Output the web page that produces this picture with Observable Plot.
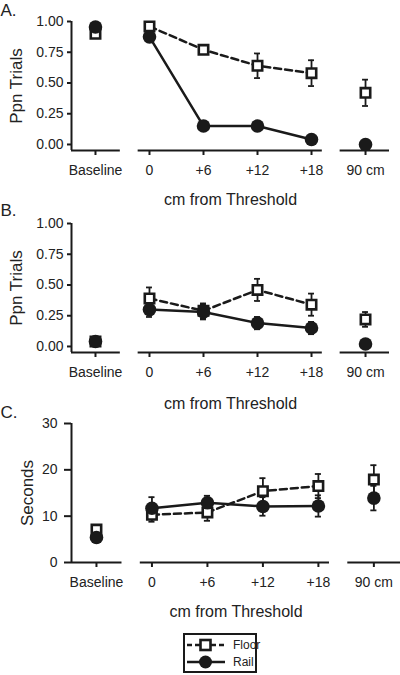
<!DOCTYPE html>
<html><head><meta charset="utf-8">
<script src="https://cdn.jsdelivr.net/npm/d3@7"></script>
<script src="https://cdn.jsdelivr.net/npm/@observablehq/plot@0.6"></script>
<style>
body{margin:0;background:#fff;font-family:"Liberation Sans",Arial,sans-serif;}
#wrap{position:relative;width:400px;height:675px;overflow:hidden;}
#wrap svg{display:block;overflow:visible;}
#legend{position:absolute;left:183px;top:633px;width:70px;height:36px;border:2px solid #1a1a1a;background:#fff;}
#legend svg{display:block;}
</style></head><body><div id="wrap"></div>
<script>
// ---- data ----
const conditions = ["Baseline", "0", "+6", "+12", "+18", "90 cm"];
const seriesNames = ["Floor", "Rail"];
const xTitle = "cm from Threshold";

// Panel A: Ppn Trials
const floorA    = [0.90, 0.96, 0.77, 0.64, 0.58, 0.42];
const floorAErr = [0.02, 0.02, 0.03, 0.10, 0.105, 0.107];
const railA     = [0.955, 0.875, 0.15, 0.15, 0.04, 0.00];
const railAErr  = [0.02, 0.02, 0.02, 0.02, 0.02, 0.00];

// Panel B: Ppn Trials
const floorB    = [0.04, 0.39, 0.29, 0.46, 0.34, 0.22];
const floorBErr = [0.02, 0.09, 0.06, 0.09, 0.09, 0.06];
const railB     = [0.04, 0.30, 0.28, 0.19, 0.15, 0.02];
const railBErr  = [0.02, 0.06, 0.06, 0.05, 0.05, 0.01];

// Panel C: Seconds
const floorC    = [7.1, 10.3, 10.8, 15.4, 16.5, 17.9];
const floorCErr = [0.6, 1.5, 1.8, 2.8, 2.6, 3.1];
const railC     = [5.4, 11.7, 12.9, 12.1, 12.2, 13.9];
const railCErr  = [0.5, 2.4, 1.5, 2.0, 2.3, 2.65];

const ticksPpn = [0, 0.25, 0.5, 0.75, 1];
const ticksSec = [0, 10, 20, 30];

// ---- drawing ----
const INK = "#1a1a1a";
const TXT = "#222";

function panel(o) {
  const mk = (vals, errs) => vals.map((v, i) => ({i, v, e: errs[i]}));
  const fl = mk(o.floor, o.floorErr), rl = mk(o.rail, o.railErr);
  const [x0, x1] = o.xDomain, [y0, y1] = o.yDomain;
  const segs = [[x0, 0.46], [0.79, 4.2], [4.53, x1]];
  const mid = p => p.i >= 1 && p.i <= 4;
  const cap = 0.055;
  const errMarks = d => {
    const e = d.filter(p => p.e > 0);
    return [
      Plot.ruleX(e, {x: "i", y1: p => p.v - p.e, y2: p => p.v + p.e, stroke: INK, strokeWidth: 1.8}),
      Plot.ruleY(e, {y: p => p.v + p.e, x1: p => p.i - cap, x2: p => p.i + cap, stroke: INK, strokeWidth: 1.8}),
      Plot.ruleY(e, {y: p => p.v - p.e, x1: p => p.i - cap, x2: p => p.i + cap, stroke: INK, strokeWidth: 1.8})
    ];
  };
  return Plot.plot({
    width: 400, height: o.height,
    marginTop: o.marginTop, marginBottom: o.marginBottom,
    marginLeft: 71, marginRight: o.marginRight,
    style: {overflow: "visible", fontFamily: "'Liberation Sans', Arial, sans-serif", color: TXT, background: "white"},
    x: {type: "linear", domain: o.xDomain},
    y: {type: "linear", domain: o.yDomain},
    marks: [
      Plot.ruleY(segs, {x1: d => d[0], x2: d => d[1], y: () => y0, stroke: INK, strokeWidth: 2}),
      Plot.ruleX([x0], {x: d => d, y1: () => y0, y2: () => y1, stroke: INK, strokeWidth: 2}),
      Plot.axisY({ticks: o.yTicks, tickFormat: o.yFormat, tickSize: o.yTickSize, tickPadding: o.yTickPadding,
                  fontSize: 14, label: null, stroke: INK, strokeWidth: 2}),
      Plot.axisX({ticks: [0, 1, 2, 3, 4, 5], tickFormat: i => conditions[Math.round(i)], tickSize: 5, tickPadding: 10,
                  fontSize: 14, label: null, stroke: INK, strokeWidth: 2}),
      ...errMarks(fl),
      Plot.line(fl.filter(mid), {x: "i", y: "v", stroke: INK, strokeWidth: 2.5, strokeDasharray: "7,4"}),
      ...errMarks(rl),
      Plot.line(rl.filter(mid), {x: "i", y: "v", stroke: INK, strokeWidth: 2.5}),
      Plot.dot(fl, {x: "i", y: "v", symbol: "square", r: 5.3, fill: "white", stroke: INK, strokeWidth: 2.6}),
      Plot.dot(rl, {x: "i", y: "v", r: 6.8, fill: INK, stroke: "none"}),
      Plot.text([o.yLabel], {text: d => d, frameAnchor: "left", rotate: -90, dx: o.yLabelX - 71,
                             fontSize: 17, fill: TXT, textAnchor: "middle", lineAnchor: "middle"}),
      Plot.text([xTitle], {text: d => d, frameAnchor: "bottom", dy: o.titleDy, fontSize: 16, fill: TXT,
                           textAnchor: "middle", lineAnchor: "middle"}),
      Plot.text([o.letter], {text: d => d, frameAnchor: "top-left", dx: -71, dy: o.letterDy, fontSize: 17,
                             fill: TXT, textAnchor: "start", lineAnchor: "middle"})
    ]
  });
}

const fmt2 = d3.format(".2f");
const wrap = document.getElementById("wrap");

wrap.append(panel({
  floor: floorA, floorErr: floorAErr, rail: railA, railErr: railAErr,
  height: 200, marginTop: 21, marginBottom: 50, marginRight: 11,
  xDomain: [-0.444, 5.444], yDomain: [-0.049, 1], yTicks: ticksPpn, yFormat: fmt2,
  yTickSize: 4, yTickPadding: 4, yLabel: "Ppn Trials", yLabelX: 16,
  letter: "A.", letterDy: -10.5, titleDy: 49
}));
wrap.append(panel({
  floor: floorB, floorErr: floorBErr, rail: railB, railErr: railBErr,
  height: 200, marginTop: 23, marginBottom: 48, marginRight: 11,
  xDomain: [-0.444, 5.444], yDomain: [-0.049, 1], yTicks: ticksPpn, yFormat: fmt2,
  yTickSize: 4, yTickPadding: 4, yLabel: "Ppn Trials", yLabelX: 16,
  letter: "B.", letterDy: -13, titleDy: 51
}));
wrap.append(panel({
  floor: floorC, floorErr: floorCErr, rail: railC, railErr: railCErr,
  height: 215, marginTop: 23, marginBottom: 53, marginRight: 0,
  xDomain: [-0.45, 5.48], yDomain: [0, 30], yTicks: ticksSec, yFormat: d3.format("d"),
  yTickSize: 7, yTickPadding: 7, yLabel: "Seconds", yLabelX: 27,
  letter: "C.", letterDy: -11, titleDy: 49
}));

// legend
const leg = document.createElement("div");
leg.id = "legend";
leg.innerHTML = `<svg width="70" height="36" font-family="'Liberation Sans', Arial, sans-serif">
  <line x1="2" x2="40" y1="10" y2="10" stroke="${INK}" stroke-width="2.5" stroke-dasharray="5,3"/>
  <rect x="15.5" y="5" width="10" height="10" fill="white" stroke="${INK}" stroke-width="2.6"/>
  <text x="48" y="14.3" font-size="12" fill="${TXT}">${seriesNames[0]}</text>
  <line x1="2" x2="40" y1="27" y2="27" stroke="${INK}" stroke-width="2.5"/>
  <circle cx="20.5" cy="27" r="6.5" fill="${INK}"/>
  <text x="48" y="31.3" font-size="12" fill="${TXT}">${seriesNames[1]}</text>
</svg>`;
wrap.append(leg);
</script>
</body></html>
